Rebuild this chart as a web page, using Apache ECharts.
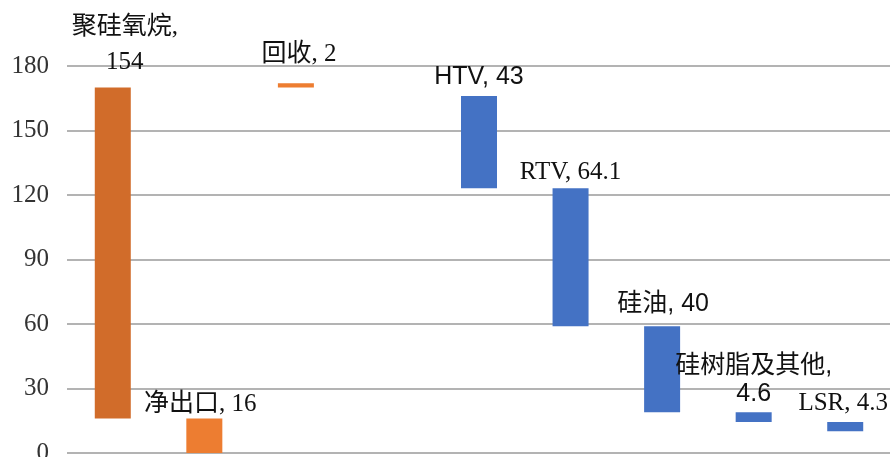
<!DOCTYPE html>
<html><head><meta charset="utf-8">
<script src="https://cdn.jsdelivr.net/npm/echarts@6/dist/echarts.min.js"></script>
<style>html,body{margin:0;padding:0;background:#fff}#c{width:890px;height:457px}</style>
</head><body><div id="c"></div>
<script>
// Data
const categories = ['聚硅氧烷', '净出口', '回收', '', 'HTV', 'RTV', '硅油', '硅树脂及其他', 'LSR'];
const values     = [154, 16, 2, null, 43, 64.1, 40, 4.6, 4.3];
const bases      = [16, 0, 170, null, 123.1, 59, 19, 14.4, 10.1];
const yTicks     = [0, 30, 60, 90, 120, 150, 180];

// Styles
const barColors = ['#D16C2A', '#ED7D31', '#ED7D31', '#4472C4', '#4472C4', '#4472C4', '#4472C4', '#4472C4', '#4472C4'];
const labelOffsets = [[12, -6], [-4, 1], [3, -14], [0, 0], [0, -4], [0, -1], [1, -7], [0, -2], [-2, -4]];
const labelWrap = [true, false, false, false, false, false, false, true, false];
const labelLineH = [35, 26, 26, 26, 26, 26, 26, 28, 26];
const SERIF = '"Times New Roman","Liberation Serif","Noto Sans CJK SC",serif';
const SANS = 'Arial,"Liberation Sans","Noto Sans CJK SC",sans-serif';
const labelFonts = [SERIF, SERIF, SERIF, SERIF, SANS, SERIF, SANS, SANS, SERIF];

const chart = echarts.init(document.getElementById('c'), null, {renderer: 'canvas'});
chart.setOption({
  animation: false,
  backgroundColor: '#fff',
  grid: {left: 67, top: 66, width: 824, height: 387, outerBoundsMode: 'none', containLabel: false},
  xAxis: {
    type: 'category', data: categories,
    axisLine: {show: false}, axisTick: {show: false}, axisLabel: {show: false},
    splitLine: {show: false}
  },
  yAxis: {
    type: 'value', min: yTicks[0], max: yTicks[yTicks.length - 1], interval: 30,
    axisLine: {show: false}, axisTick: {show: false},
    axisLabel: {fontFamily: SERIF, fontSize: 25, color: '#333', margin: 18},
    splitLine: {lineStyle: {color: '#9a9a9a', width: 1.5}}
  },
  series: [
    {
      type: 'bar', stack: 'w', barWidth: 36, silent: true,
      itemStyle: {color: 'transparent'},
      data: bases
    },
    {
      type: 'bar', stack: 'w', barWidth: 36,
      data: values.map((v, i) => ({
        value: v,
        itemStyle: {color: barColors[i]},
        label: {
          show: v != null,
          position: 'top', distance: 2,
          offset: labelOffsets[i],
          fontFamily: labelFonts[i], fontSize: 25, color: '#111',
          lineHeight: labelLineH[i],
          formatter: () => categories[i] + ',' + (labelWrap[i] ? '\n' : ' ') + v
        }
      }))
    }
  ]
});
</script></body></html>
